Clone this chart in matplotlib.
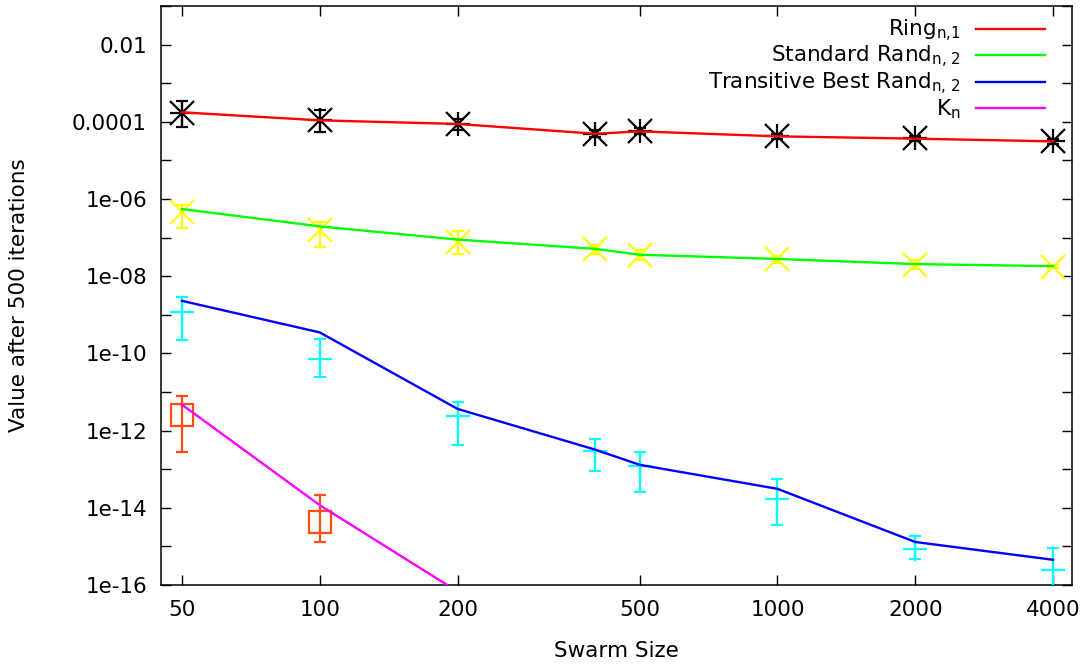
import matplotlib
matplotlib.use("Agg")
import matplotlib.pyplot as plt
import numpy as np

# ---------------- data ----------------
swarm = [50, 100, 200, 400, 500, 1000, 2000, 4000]

ring_line = [1.76e-4, 1.09e-4, 8.8e-5, 4.9e-5, 5.65e-5, 4.2e-5, 3.66e-5, 3.11e-5]
ring_pts = [1.7e-4, 1.09e-4, 8.8e-5, 4.9e-5, 5.65e-5, 4.2e-5, 3.8e-5, 3.11e-5]
ring_hi = [3.4e-4, 2.07e-4, 1.17e-4, 6.0e-5, 6.8e-5, 4.9e-5, 4.4e-5, 3.5e-5]
ring_lo = [7.2e-5, 5.5e-5, 6.3e-5, 4.0e-5, 4.7e-5, 3.5e-5, 3.2e-5, 2.7e-5]

std_line = [5.5e-7, 1.95e-7, 8.9e-8, 5.1e-8, 3.6e-8, 2.8e-8, 2.06e-8, 1.82e-8]
std_pts = [4.6e-7, 1.6e-7, 7.9e-8, 5.1e-8, 3.5e-8, 2.8e-8, 2.0e-8, 1.78e-8]
std_hi = [7.1e-7, 2.6e-7, 1.45e-7, 6.5e-8, 4.9e-8, 3.4e-8, 2.7e-8, 2.0e-8]
std_lo = [1.8e-7, 5.6e-8, 3.7e-8, 3.7e-8, 2.6e-8, 2.2e-8, 1.5e-8, 1.6e-8]

tbr_line = [2.3e-9, 3.5e-10, 3.65e-12, 3.2e-13, 1.3e-13, 3.1e-14, 1.3e-15, 4.5e-16]
tbr_pts = [1.17e-9, 7.1e-11, 2.4e-12, 3.0e-13, 1.23e-13, 1.7e-14, 8.7e-16, 2.45e-16]
tbr_hi = [2.9e-9, 2.4e-10, 5.5e-12, 6.0e-13, 2.85e-13, 5.5e-14, 1.86e-15, 9.3e-16]
tbr_lo = [2.24e-10, 2.4e-11, 4.3e-13, 8.9e-14, 2.6e-14, 3.6e-15, 4.8e-16, 8e-17]

kn_x = [50, 100, 200]
kn_line = [4.7e-12, 1.17e-14, 6.8e-17]
kn_pts_x = [50, 100]
kn_pts = [2.6e-12, 4.3e-15]
kn_hi = [8.1e-12, 2.2e-14]
kn_lo = [2.75e-13, 1.3e-15]

xticks = [50, 100, 200, 500, 1000, 2000, 4000]
xticklabels = ["50", "100", "200", "500", "1000", "2000", "4000"]
ytick_exps = list(range(-16, 0))
ylabels_map = {-2: "0.01", -4: "0.0001", -6: "1e-06", -8: "1e-08", -10: "1e-10",
               -12: "1e-12", -14: "1e-14", -16: "1e-16"}

legend_labels = ["Ring$_{\\mathregular{n{,}1}}$", "Standard Rand$_{\\mathregular{n{,}\\ 2}}$",
                 "Transitive Best Rand$_{\\mathregular{n{,}\\ 2}}$", "K$_{\\mathregular{n}}$"]

# ---------------- figure ----------------
plt.rcParams['font.family'] = ['DejaVu Sans']
plt.rcParams['mathtext.fontset'] = 'dejavusans'
FS = 15.5

fig = plt.figure(figsize=(10.88, 6.66), dpi=100)
ax = fig.add_axes([161/1088, 1-585/666, (1072-161)/1088, (585-6)/666])
ax.set_xscale('log')
ax.set_yscale('log')


def err(y, lo, hi):
    y = np.asarray(y); lo = np.asarray(lo); hi = np.asarray(hi)
    return [y - lo, hi - y]


ms = 17
mew = 1.6
cap = 4.5
elw = 1.6

# markers with error bars
ax.errorbar(swarm, ring_pts, yerr=err(ring_pts, ring_lo, ring_hi), fmt='none',
            ecolor='black', elinewidth=elw, capsize=cap, capthick=elw, zorder=3)
ax.plot(swarm, ring_pts, linestyle='none', marker='+', ms=ms, mew=mew, color='black', zorder=3)
ax.plot(swarm, ring_pts, linestyle='none', marker='x', ms=ms, mew=mew, color='black', zorder=3)

ax.errorbar(swarm, std_pts, yerr=err(std_pts, std_lo, std_hi), fmt='none',
            ecolor='#ffff00', elinewidth=elw, capsize=cap, capthick=elw, zorder=3)
ax.plot(swarm, std_pts, linestyle='none', marker='x', ms=ms, mew=mew, color='#ffff00', zorder=3)

ax.errorbar(swarm, tbr_pts, yerr=err(tbr_pts, tbr_lo, tbr_hi), fmt='none',
            ecolor='#00ffff', elinewidth=elw, capsize=cap, capthick=elw, zorder=3)
ax.plot(swarm, tbr_pts, linestyle='none', marker='+', ms=ms, mew=mew, color='#00ffff', zorder=3)

ax.errorbar(kn_pts_x, kn_pts, yerr=err(kn_pts, kn_lo, kn_hi), fmt='none',
            ecolor='#ff4f10', elinewidth=elw, capsize=cap, capthick=elw, zorder=3)
ax.plot(kn_pts_x, kn_pts, linestyle='none', marker='s', ms=16, mew=mew,
        markerfacecolor='none', markeredgecolor='#ff4f10', zorder=3)

# lines
lw = 1.7
l1, = ax.plot(swarm, ring_line, color='#ff0000', lw=lw, zorder=4)
l2, = ax.plot(swarm, std_line, color='#00ff00', lw=lw, zorder=4)
l3, = ax.plot(swarm, tbr_line, color='#0000ff', lw=lw, zorder=4)
l4, = ax.plot(kn_x, kn_line, color='#ff00ff', lw=lw, zorder=4)

ax.set_xlim(45, 4400)
ax.set_ylim(1e-16, 0.1)

ax.set_xticks(xticks)
ax.set_xticklabels(xticklabels)
ax.xaxis.set_minor_locator(matplotlib.ticker.NullLocator())
ax.set_yticks([10.0 ** e for e in ytick_exps])
ax.set_yticklabels([ylabels_map.get(e, "") for e in ytick_exps])
ax.yaxis.set_minor_locator(matplotlib.ticker.NullLocator())

ax.tick_params(axis='both', which='major', direction='in', length=7.2, width=1.0,
               top=True, right=True, labelsize=FS, pad=10)
ax.tick_params(axis='x', pad=11)
for s in ax.spines.values():
    s.set_linewidth(1.1)

fig.text(616/1088, 1-651/666, "Swarm Size", ha='center', va='center', fontsize=FS)
fig.text(19/1088, 1-295/666, "Value after 500 iterations", ha='center', va='center',
         rotation=90, fontsize=FS)

leg = ax.legend([l1, l2, l3, l4], legend_labels, loc='upper right',
                bbox_to_anchor=(0.970, 0.980), frameon=False, markerfirst=False,
                fontsize=FS, handlelength=3.2, handletextpad=0.7, labelspacing=0.02,
                borderpad=0, borderaxespad=0)

fig.savefig("out.png", dpi=100)
